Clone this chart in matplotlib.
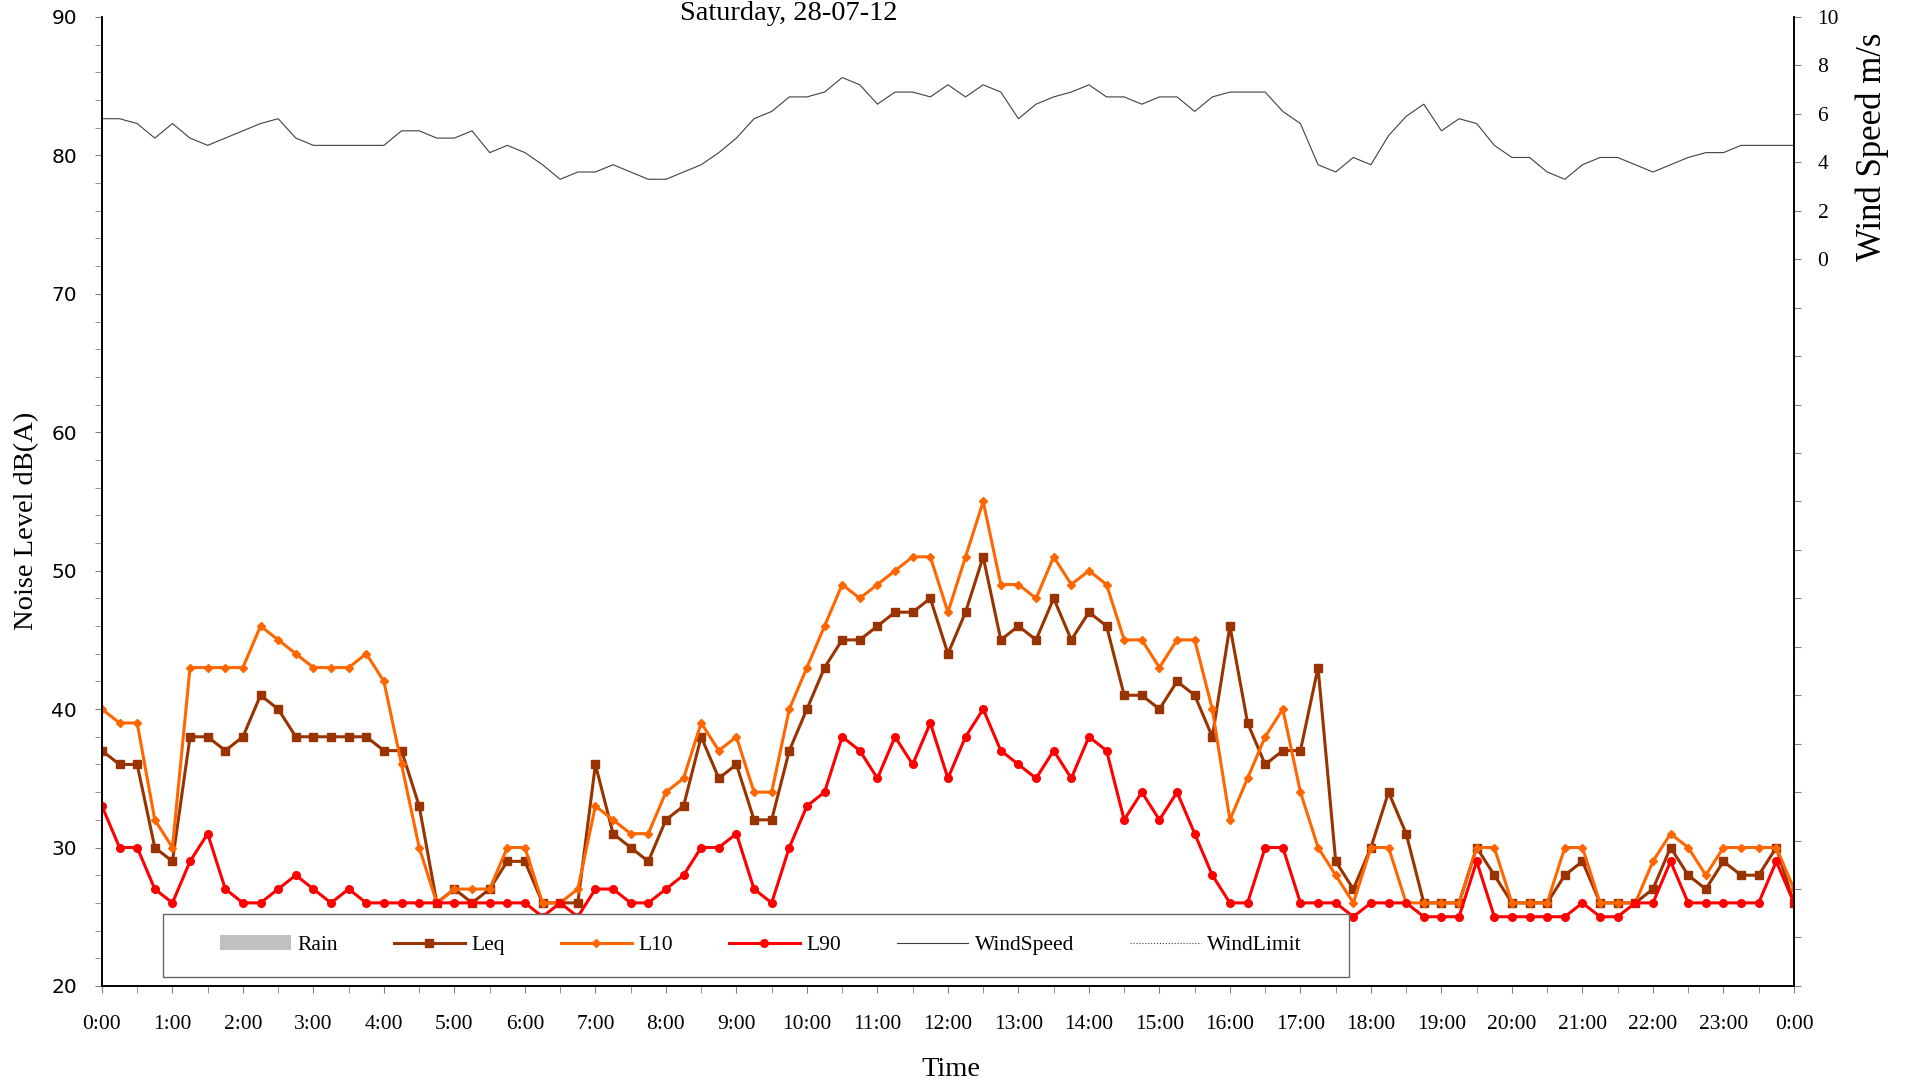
import numpy as np
import matplotlib
matplotlib.use('Agg')
import matplotlib.pyplot as plt
from matplotlib.lines import Line2D
from matplotlib.patches import Patch, Rectangle
from matplotlib.ticker import MultipleLocator, FixedLocator, FuncFormatter

# 15 minute readings, 0:00 to 24:00
leq = [37, 36, 36, 30, 29, 38, 38, 37, 38, 41, 40, 38, 38, 38, 38, 38, 37, 37, 33,
       26, 27, 26, 27, 29, 29, 26, 26, 26, 36, 31, 30, 29, 32, 33, 38, 35,
       36, 32, 32, 37, 40, 43, 45, 45, 46, 47, 47, 48, 44, 47, 51, 45, 46, 45,
       48, 45, 47, 46, 41, 41, 40, 42, 41, 38, 46, 39, 36, 37, 37, 43, 29, 27, 30,
       34, 31, 26, 26, 26, 30, 28, 26, 26, 26, 28, 29, 26, 26, 26, 27, 30, 28, 27, 29, 28, 28, 30, 26]
l10 = [40, 39, 39, 32, 30, 43, 43, 43, 43, 46, 45, 44, 43, 43, 43, 44, 42, 36, 30,
       26, 27, 27, 27, 30, 30, 26, 26, 27, 33, 32, 31, 31, 34, 35, 39, 37,
       38, 34, 34, 40, 43, 46, 49, 48, 49, 50, 51, 51, 47, 51, 55, 49, 49, 48,
       51, 49, 50, 49, 45, 45, 43, 45, 45, 40, 32, 35, 38, 40, 34, 30, 28, 26, 30,
       30, 26, 26, 26, 26, 30, 30, 26, 26, 26, 30, 30, 26, 26, 26, 29, 31, 30, 28, 30, 30, 30, 30, 27]
l90 = [33, 30, 30, 27, 26, 29, 31, 27, 26, 26, 27, 28, 27, 26, 27, 26, 26, 26, 26,
       26, 26, 26, 26, 26, 26, 25, 26, 25, 27, 27, 26, 26, 27, 28, 30, 30,
       31, 27, 26, 30, 33, 34, 38, 37, 35, 38, 36, 39, 35, 38, 40, 37, 36, 35,
       37, 35, 38, 37, 32, 34, 32, 34, 31, 28, 26, 26, 30, 30, 26, 26, 26, 25, 26,
       26, 26, 25, 25, 25, 29, 25, 25, 25, 25, 25, 26, 25, 25, 26, 26, 29, 26, 26, 26, 26, 26, 29, 26]
wind = [5.8, 5.8, 5.6, 5.0, 5.6, 5.0, 4.7, 5.0, 5.3, 5.6,
        5.8, 5.0, 4.7, 4.7, 4.7, 4.7, 4.7, 5.3, 5.3, 5.0,
        5.0, 5.3, 4.4, 4.7, 4.4, 3.9, 3.3, 3.6, 3.6, 3.9,
        3.6, 3.3, 3.3, 3.6, 3.9, 4.4, 5.0, 5.8, 6.1, 6.7,
        6.7, 6.9, 7.5, 7.2, 6.4, 6.9, 6.9, 6.7, 7.2, 6.7,
        7.2, 6.9, 5.8, 6.4, 6.7, 6.9, 7.2, 6.7, 6.7, 6.4,
        6.7, 6.7, 6.1, 6.7, 6.9, 6.9, 6.9, 6.1, 5.6, 3.9,
        3.6, 4.2, 3.9, 5.1, 5.9, 6.4, 5.3, 5.8, 5.6, 4.7,
        4.2, 4.2, 3.6, 3.3, 3.9, 4.2, 4.2, 3.9, 3.6, 3.9,
        4.2, 4.4, 4.4, 4.7, 4.7, 4.7, 4.7]
hours = np.arange(len(leq)) * 0.25
hour_labels = ['%d:00' % (h % 24) for h in range(25)]

serif = 'Liberation Serif'
c_leq = '#993300'
c_l10 = '#FF6600'
c_l90 = '#FF0000'
c_wind = '#404040'

fig = plt.figure(figsize=(19.05, 10.88), dpi=100)
ax = fig.add_axes([0.0535, 0.0938, 0.8882, 0.8906])
ax2 = ax.twinx()

ax.plot(hours, leq, color=c_leq, lw=2.2, marker='s', ms=6, label='Leq')
ax.plot(hours, l10, color=c_l10, lw=2.2, marker='D', ms=3.8, label='L10')
ax.plot(hours, l90, color=c_l90, lw=2.2, marker='o', ms=5.5, label='L90')
ax2.plot(hours, wind, color=c_wind, lw=0.8, label='WindSpeed')

ax.set_xlim(0, 24)
ax.set_ylim(20, 90)
ax2.set_ylim(-30, 10)

ax.xaxis.set_major_locator(FixedLocator(range(25)))
ax.set_xticklabels(hour_labels, fontfamily=serif)
ax.xaxis.set_minor_locator(MultipleLocator(0.5))
ax.yaxis.set_major_locator(MultipleLocator(10))
ax.yaxis.set_minor_locator(MultipleLocator(2))
ax2.yaxis.set_major_locator(MultipleLocator(2))
ax2.yaxis.set_major_formatter(FuncFormatter(lambda v, p: '%d' % v if v >= 0 else ''))

ax.tick_params(axis='x', which='both', direction='out', length=5, color='#808080',
               labelsize=15.5, pad=16)
ax.tick_params(axis='y', which='both', direction='out', length=5, color='#808080',
               labelsize=14.5, pad=13)
ax2.tick_params(axis='y', direction='out', length=5, color='#808080', labelsize=15.5, pad=12)
for t in ax.get_yticklabels():
    t.set_fontfamily('DejaVu Sans')
for t in ax2.get_yticklabels():
    t.set_fontfamily(serif)

for a in (ax, ax2):
    a.spines['top'].set_visible(False)
    for s in ('left', 'right', 'bottom'):
        a.spines[s].set_linewidth(1.2)
        a.spines[s].set_color('black')

ax.set_ylabel('Noise Level dB(A)', fontfamily=serif, fontsize=20.5)
ax.yaxis.set_label_coords(-0.037, 0.48)
ax.set_xlabel('Time', fontfamily=serif, fontsize=20.5)
ax.xaxis.set_label_coords(0.502, -0.073)
ax2.set_ylabel('Wind Speed m/s', fontfamily=serif, fontsize=25)
ax2.yaxis.set_label_coords(1.0362, 0.866)

fig.text(789 / 1905, 1 - 14 / 1088, 'Saturday, 28-07-12', ha='center', va='center',
         fontfamily=serif, fontsize=20.5)

# legend box sits over the bottom of the plot
box = Rectangle((0.036, 0.0093), 0.701, 0.065, transform=ax2.transAxes,
                facecolor='white', edgecolor='#666666', lw=1, zorder=4)
ax2.add_patch(box)
handles = [Patch(facecolor='#C0C0C0', edgecolor='none'),
           Line2D([], [], color=c_leq, lw=2.2, marker='s', ms=6),
           Line2D([], [], color=c_l10, lw=2.2, marker='D', ms=3.8),
           Line2D([], [], color=c_l90, lw=2.2, marker='o', ms=5.5),
           Line2D([], [], color=c_wind, lw=0.8),
           Line2D([], [], color=c_wind, lw=0.8, ls=':')]
labels = ['Rain', 'Leq', 'L10', 'L90', 'WindSpeed', 'WindLimit']
leg = ax2.legend(handles, labels, loc='center', bbox_to_anchor=(0.3895, 0.0418),
                 ncol=6, frameon=False, handlelength=3.3, handletextpad=0.3,
                 columnspacing=2.6, prop={'family': serif, 'size': 15.5})
leg.set_zorder(5)

fig.savefig('out.png', dpi=100)
